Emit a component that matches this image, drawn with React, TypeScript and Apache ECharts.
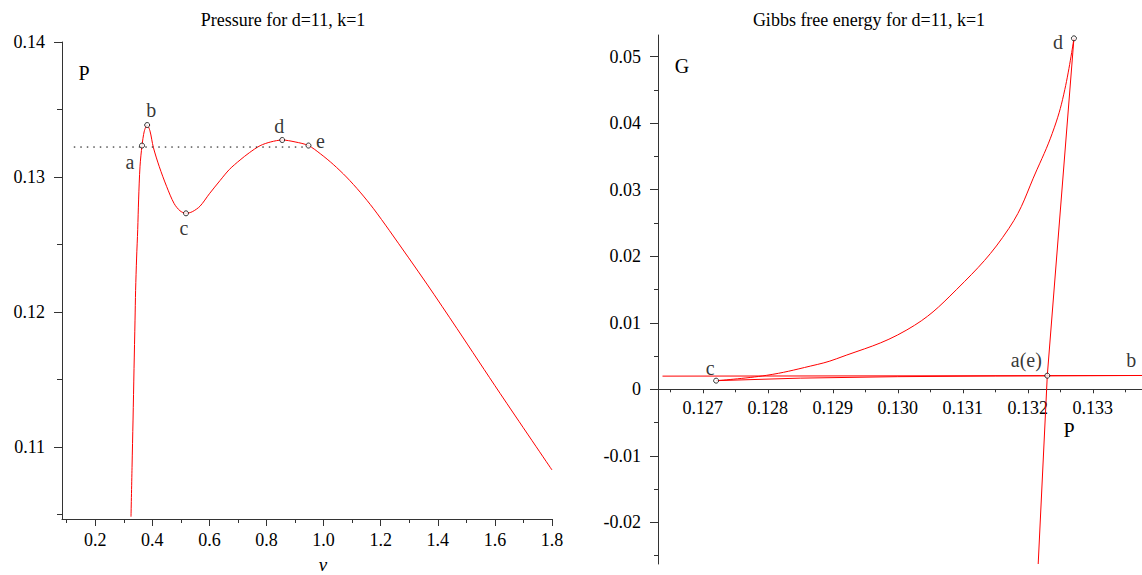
import React, { useEffect, useRef } from "react";
import * as echarts from "echarts";

// ---------- Left chart: pressure P(v) ----------
const pressureV = [
  0.3254, 0.329, 0.3325, 0.336, 0.3395, 0.3415, 0.345, 0.3489, 0.352, 0.357,
  0.364, 0.372, 0.382, 0.392, 0.4036, 0.4246, 0.4505, 0.476, 0.497, 0.518,
  0.54, 0.5672, 0.6, 0.6373, 0.67, 0.7074, 0.74, 0.7775, 0.815, 0.855, 0.9,
  0.947, 0.99, 1.034, 1.08, 1.128, 1.175, 1.23, 1.362, 1.467, 1.618, 1.8,
];
const pressureP = [
  0.10484, 0.1085, 0.112, 0.1158, 0.1194, 0.1216, 0.124, 0.1261, 0.1283, 0.1308,
  0.13233, 0.1334, 0.13385, 0.1334, 0.1322, 0.13076, 0.12928, 0.12805, 0.1275, 0.12731,
  0.12743, 0.12784, 0.12876, 0.12974, 0.13056, 0.13126, 0.1318, 0.13232, 0.1326, 0.13274, 0.1326,
  0.13233, 0.1317, 0.13093, 0.13, 0.12888, 0.12765, 0.12605, 0.12207, 0.11878, 0.11398, 0.1083,
];
const pointNames = ["a", "b", "c", "d", "e"];
const pointV = [0.364, 0.382, 0.518, 0.855, 0.947];
const pointP = [0.13233, 0.13385, 0.12731, 0.13274, 0.13233];
const maxwellP = 0.13222;
const maxwellV = [0.125, 0.947];
const vTicks = [0.2, 0.4, 0.6, 0.8, 1.0, 1.2, 1.4, 1.6, 1.8];
const vMinorTicks = [0.1, 0.3, 0.5, 0.7, 0.9, 1.1, 1.3, 1.5, 1.7];
const pTicks = [0.11, 0.12, 0.13, 0.14];
const pMinorTicks = [0.105, 0.115, 0.125, 0.135];

// ---------- Right chart: Gibbs free energy G(P) ----------
// branch from the left edge through a(e) to b, then back from b to c
const gibbsLiquidP = [0.12638, 0.1323, 0.13385, 0.1315, 0.13, 0.1285, 0.127205];
const gibbsLiquidG = [0.00198, 0.00205, 0.00208, 0.002, 0.0019, 0.00168, 0.0013];
// branch from c up to d
const gibbsMidP = [0.127205, 0.12798, 0.12866, 0.12906, 0.13014, 0.1309, 0.13171, 0.13214, 0.13241, 0.13257, 0.13271];
const gibbsMidG = [0.0013, 0.0021, 0.0035, 0.0046, 0.00893, 0.01496, 0.0242, 0.033, 0.0394, 0.04508, 0.05276];
// branch from d down through a(e) and beyond
const gibbsGasP = [0.13271, 0.1323, 0.13216];
const gibbsGasG = [0.05276, 0.00205, -0.02626];
const gPointNames = ["c", "a(e)", "d"];
const gPointP = [0.127205, 0.1323, 0.13271];
const gPointG = [0.0013, 0.00205, 0.05276];
const gLabelB = { name: "b", P: 0.13359, G: 0.0044 };
const gxTicks = [0.127, 0.128, 0.129, 0.13, 0.131, 0.132, 0.133];
const gxMinorTicks = [0.1265, 0.1275, 0.1285, 0.1295, 0.1305, 0.1315, 0.1325, 0.1335];
const gyTicks = [-0.02, -0.01, 0, 0.01, 0.02, 0.03, 0.04, 0.05];
const gyMinorTicks = [-0.025, -0.015, -0.005, 0.005, 0.015, 0.025, 0.035, 0.045];

const FONT = '"Liberation Serif", "Times New Roman", serif';
const AXIS_COLOR = "#333";

// layout
const LEFT_GRID = { left: 62, top: 42, width: 490, height: 477 };
const RIGHT_GRID = { left: 658, top: 35, width: 484, height: 529 };
const LEFT_X = [0.0837, 1.8];
const LEFT_Y = [0.10467, 0.14];
const RIGHT_X = [0.126311, 0.133757];
const RIGHT_Y = [-0.02626, 0.05326];

function makeAxes(
  dim: "x" | "y",
  gridIndex: number,
  min: number,
  max: number,
  major: number[],
  minor: number[],
  fmt: (v: number) => string,
  margin: number,
  majorLen: number,
  minorLen: number,
  offset: number,
) {
  const position = dim === "x" ? "bottom" : "left";
  const base = {
    type: "value",
    gridIndex,
    min,
    max,
    position,
    offset,
    splitLine: { show: false },
  };
  return [
    {
      ...base,
      axisLine: { show: true, onZero: false, lineStyle: { color: AXIS_COLOR, width: 1 } },
      axisTick: {
        show: true,
        customValues: major,
        length: majorLen,
        lineStyle: { color: AXIS_COLOR, width: 1 },
      },
      axisLabel: {
        show: true,
        customValues: major,
        formatter: fmt,
        margin,
        color: "#000",
        fontFamily: FONT,
        fontSize: 18,
      },
    },
    {
      ...base,
      axisLine: { show: false, onZero: false },
      axisTick: {
        show: true,
        customValues: minor,
        length: minorLen,
        lineStyle: { color: AXIS_COLOR, width: 1 },
      },
      axisLabel: { show: false, customValues: minor },
    },
  ];
}

const leftOffsets: Record<string, [number, number]> = {
  a: [-12, 16],
  b: [4, -15],
  c: [-2, 15],
  d: [-3, -14],
  e: [12, -5],
};
const rightOffsets: Record<string, [number, number]> = {
  c: [-6, -13],
  "a(e)": [-21, -16],
  d: [-16, 4],
};

export default function App() {
  const ref = useRef<HTMLDivElement>(null);
  useEffect(() => {
    if (!ref.current) return;
    const chart = echarts.init(ref.current, undefined, { renderer: "svg" });

    // the P axis of the Gibbs chart crosses at G = 0
    const zeroShift = -RIGHT_GRID.height * (0 - RIGHT_Y[0]) / (RIGHT_Y[1] - RIGHT_Y[0]);

    const xAxes = [
      ...makeAxes("x", 0, LEFT_X[0], LEFT_X[1], vTicks, vMinorTicks, (v) => v.toFixed(1), 12, 7, 4, 0),
      ...makeAxes("x", 1, RIGHT_X[0], RIGHT_X[1], gxTicks, gxMinorTicks, (v) => v.toFixed(3), 10, 4, 3, zeroShift),
    ];
    const yAxes = [
      ...makeAxes("y", 0, LEFT_Y[0], LEFT_Y[1], pTicks, pMinorTicks, (v) => v.toFixed(2), 17, 8, 5, 0),
      ...makeAxes("y", 1, RIGHT_Y[0], RIGHT_Y[1], gyTicks, gyMinorTicks, (v) => (v === 0 ? "0" : v.toFixed(2)), 17, 8, 4, 0),
    ];

    const labelStyle = { color: "#000", fontFamily: FONT, fontSize: 20 };
    const markerItem = { color: "#fff", borderColor: "#000", borderWidth: 1 };
    const red = { color: "#ff0000", width: 1 };

    const txt = (x: number, y: number, text: string, font: string) => ({
      type: "text",
      x,
      y,
      style: { text, font, fill: "#000", textAlign: "center", textVerticalAlign: "middle" },
    });

    const option: any = {
      animation: false,
      backgroundColor: "#fff",
      grid: [
        { ...LEFT_GRID, outerBoundsMode: "none", containLabel: false },
        { ...RIGHT_GRID, outerBoundsMode: "none", containLabel: false },
      ],
      xAxis: xAxes,
      yAxis: yAxes,
      graphic: [
        txt(283, 20, "Pressure for d=11, k=1", `18px ${FONT}`),
        txt(869, 20, "Gibbs free energy for d=11, k=1", `18px ${FONT}`),
        txt(84, 73, "P", `20px ${FONT}`),
        txt(323, 564, "v", `italic 19px ${FONT}`),
        txt(682, 66, "G", `20px ${FONT}`),
        txt(1069, 430, "P", `20px ${FONT}`),
      ],
      series: [
        {
          type: "line",
          xAxisIndex: 0,
          yAxisIndex: 0,
          data: pressureV.map((v, i) => [v, pressureP[i]]),
          symbol: "none",
          smooth: 0.3,
          lineStyle: red,
          silent: true,
        },
        {
          type: "line",
          xAxisIndex: 0,
          yAxisIndex: 0,
          data: maxwellV.map((v) => [v, maxwellP]),
          symbol: "none",
          lineStyle: { color: "#000", width: 1, type: [1.5, 5] },
          silent: true,
        },
        {
          type: "scatter",
          xAxisIndex: 0,
          yAxisIndex: 0,
          symbol: "circle",
          symbolSize: 5,
          itemStyle: markerItem,
          z: 5,
          data: pointNames.map((n, i) => ({
            name: n,
            value: [pointV[i], pointP[i]],
            label: { show: true, formatter: n, position: "inside", offset: leftOffsets[n], ...labelStyle },
          })),
          silent: true,
        },
        {
          type: "line",
          xAxisIndex: 2,
          yAxisIndex: 2,
          data: gibbsLiquidP.map((p, i) => [p, gibbsLiquidG[i]]),
          symbol: "none",
          lineStyle: red,
          silent: true,
        },
        {
          type: "line",
          xAxisIndex: 2,
          yAxisIndex: 2,
          data: gibbsMidP.map((p, i) => [p, gibbsMidG[i]]),
          symbol: "none",
          smooth: 0.4,
          lineStyle: red,
          silent: true,
        },
        {
          type: "line",
          xAxisIndex: 2,
          yAxisIndex: 2,
          data: gibbsGasP.map((p, i) => [p, gibbsGasG[i]]),
          symbol: "none",
          lineStyle: red,
          silent: true,
        },
        {
          type: "scatter",
          xAxisIndex: 2,
          yAxisIndex: 2,
          symbol: "circle",
          symbolSize: 5,
          itemStyle: markerItem,
          z: 5,
          data: gPointNames.map((n, i) => ({
            name: n,
            value: [gPointP[i], gPointG[i]],
            label: { show: true, formatter: n, position: "inside", offset: rightOffsets[n], ...labelStyle },
          })),
          silent: true,
        },
        {
          type: "scatter",
          xAxisIndex: 2,
          yAxisIndex: 2,
          symbolSize: 0,
          data: [
            {
              name: gLabelB.name,
              value: [gLabelB.P, gLabelB.G],
              label: { show: true, formatter: gLabelB.name, position: "inside", ...labelStyle },
            },
          ],
          silent: true,
        },
      ],
    };
    chart.setOption(option);
    return () => chart.dispose();
  }, []);

  return (
    <div
      ref={ref}
      style={{ position: "absolute", left: 0, top: 0, width: 1142, height: 575, background: "#fff" }}
    />
  );
}
